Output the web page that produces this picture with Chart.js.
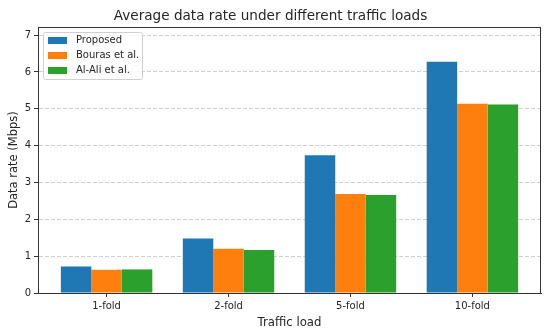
<!DOCTYPE html>
<html><head><meta charset="utf-8">
<script src="https://cdn.jsdelivr.net/npm/chart.js@4"></script>
<style>html,body{margin:0;padding:0;background:#fff}#wrap{width:550px;height:334px}</style>
</head><body><div id="wrap"><canvas id="c" width="550" height="334"></canvas></div>
<script>
const categories = ['1-fold', '2-fold', '5-fold', '10-fold'];
const proposed = [0.72, 1.48, 3.74, 6.28];
const bouras = [0.63, 1.20, 2.69, 5.14];
const alali = [0.64, 1.17, 2.66, 5.12];
const seriesNames = ['Proposed', 'Bouras et al.', 'Al-Ali et al.'];
const yTicks = [0, 1, 2, 3, 4, 5, 6, 7];

const colors = ['#1f77b4', '#ff7f0e', '#2ca02c'];
const FONT = "'DejaVu Sans', sans-serif";
const TXT = '#262626';

function mk(vals, i) {
  return {
    label: seriesNames[i],
    data: vals.map((y, k) => ({ x: k, y })),
    backgroundColor: colors[i],
    borderWidth: 0,
    categoryPercentage: 0.75,
    barPercentage: 1.0
  };
}

const framePlugin = {
  id: 'frame',
  afterDraw(chart) {
    const { ctx, chartArea: a } = chart;
    ctx.save();
    ctx.strokeStyle = '#333';
    ctx.lineWidth = 1;
    ctx.beginPath();
    ctx.moveTo(a.left, a.top + 0.5); ctx.lineTo(a.right, a.top + 0.5);
    ctx.moveTo(a.right - 0.5, a.top); ctx.lineTo(a.right - 0.5, a.bottom);
    ctx.stroke();
    // legend box
    const x = 43.5, y = 32.5, w = 99, h = 47;
    ctx.fillStyle = 'rgba(255,255,255,0.85)';
    ctx.strokeStyle = '#d0d0d0';
    ctx.beginPath();
    ctx.roundRect(x, y, w, h, 2);
    ctx.fill(); ctx.stroke();
    ctx.font = '10px ' + FONT;
    ctx.textBaseline = 'middle';
    ctx.textAlign = 'left';
    chart.data.datasets.forEach((ds, i) => {
      const cy = 40.5 + i * 15;
      ctx.fillStyle = ds.backgroundColor;
      ctx.fillRect(48, cy - 3.5, 19, 7);
      ctx.fillStyle = TXT;
      ctx.fillText(ds.label, 76, cy);
    });
    ctx.restore();
  }
};

new Chart(document.getElementById('c'), {
  type: 'bar',
  data: { datasets: [mk(proposed, 0), mk(bouras, 1), mk(alali, 2)] },
  options: {
    responsive: false,
    devicePixelRatio: 1,
    animation: false,
    layout: { padding: { left: 0, right: 9, top: 0, bottom: 0 } },
    plugins: {
      legend: { display: false },
      tooltip: { enabled: false },
      title: {
        display: true,
        text: 'Average data rate under different traffic loads',
        color: TXT,
        font: { family: FONT, size: 13.6, weight: 'normal', lineHeight: 1.2 },
        padding: { top: 8, bottom: 2.7 }
      }
    },
    scales: {
      x: {
        type: 'linear',
        offset: false,
        min: -0.5625,
        max: 3.5625,
        afterBuildTicks(s) { s.ticks = categories.map((_, i) => ({ value: i })); },
        afterFit(s) { s.height = 41; },
        ticks: {
          callback: v => categories[v],
          color: TXT,
          font: { family: FONT, size: 10 },
          padding: 3,
          maxRotation: 0,
          autoSkip: false
        },
        grid: { offset: false, drawOnChartArea: false, drawTicks: true, tickLength: 4, tickColor: '#333' },
        border: { color: '#333', width: 1 },
        title: {
          display: true, text: 'Traffic load', color: TXT,
          font: { family: FONT, size: 11.7, lineHeight: 1.2 },
          padding: { top: 4.5, bottom: 4.5 }
        }
      },
      y: {
        min: 0,
        max: 7.22,
        afterBuildTicks(s) { s.ticks = yTicks.map(v => ({ value: v })); },
        afterFit(s) { s.width = 38; },
        ticks: {
          color: TXT,
          font: { family: FONT, size: 10 },
          padding: 3
        },
        grid: {
          color: 'rgba(176,176,176,0.6)',
          lineWidth: 1,
          tickBorderDash: [],
          tickColor: '#333',
          tickLength: 4
        },
        border: { color: '#333', width: 1, dash: [4, 2] },
        title: {
          display: true, text: 'Data rate (Mbps)', color: TXT,
          font: { family: FONT, size: 11.5, lineHeight: 1.2 },
          padding: { top: 7, bottom: 0 }
        }
      }
    }
  },
  plugins: [framePlugin]
});
</script>
</body></html>
